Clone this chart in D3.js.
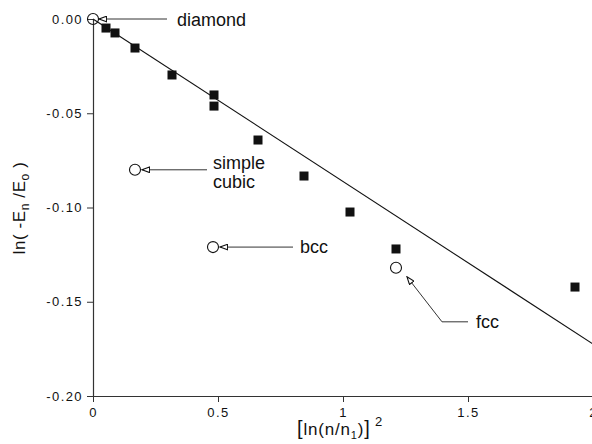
<!DOCTYPE html>
<html>
<head>
<meta charset="utf-8">
<script src="https://cdn.jsdelivr.net/npm/d3@7"></script>
<style>
  body { margin: 0; background: #fff; }
  svg { display: block; font-family: "Liberation Sans", Arial, sans-serif; }
</style>
</head>
<body>
<svg id="chart" width="592" height="444"></svg>
<script>
// measured points (filled squares)
const sqX = [0.052, 0.088, 0.168, 0.316, 0.484, 0.484, 0.66, 0.844, 1.028, 1.212, 1.928];
const sqY = [-0.0048, -0.0074, -0.0154, -0.0297, -0.0403, -0.0462, -0.0642, -0.0833, -0.1024, -0.122, -0.1422];

// lattice points (open circles)
const latName = ['diamond', 'simple cubic', 'bcc', 'fcc'];
const latX = [0, 0.168, 0.48, 1.212];
const latY = [0, -0.080, -0.121, -0.132];

// fitted straight line
const fitX = [0, 2];
const fitY = [0, -0.1724];

const xTicks = [0, 0.5, 1, 1.5, 2];
const xTickLabels = ['0', '0.5', '1', '1.5', '2'];
const yTicks = [0, -0.05, -0.1, -0.15, -0.2];
const yTickLabels = ['0.00', '-0.05', '-0.10', '-0.15', '-0.20'];

const svg = d3.select('#chart');
const x = d3.scaleLinear().domain([0, 2]).range([93, 593]);
const y = d3.scaleLinear().domain([-0.2, 0]).range([396, 19]);
const ink = '#111';

svg.append('defs').append('marker')
  .attr('id', 'head')
  .attr('viewBox', '0 0 9 7')
  .attr('refX', 8.3).attr('refY', 3.5)
  .attr('markerWidth', 9).attr('markerHeight', 7)
  .attr('markerUnits', 'userSpaceOnUse')
  .attr('orient', 'auto')
  .append('path')
  .attr('d', 'M8.3,3.5 L0.7,0.7 L0.7,6.3 Z')
  .attr('fill', '#fff')
  .attr('stroke', ink)
  .attr('stroke-width', 1.1);

// axes
const xAxis = d3.axisBottom(x).tickValues(xTicks)
  .tickFormat((d, i) => xTickLabels[i]).tickSize(6).tickSizeOuter(0);
const yAxis = d3.axisLeft(y).tickValues(yTicks)
  .tickFormat((d, i) => yTickLabels[i]).tickSize(6).tickSizeOuter(0);

const gx = svg.append('g').attr('transform', 'translate(0,396)').call(xAxis);
const gy = svg.append('g').attr('transform', 'translate(93,0)').call(yAxis);
[gx, gy].forEach((g) => {
  g.select('.domain').attr('stroke', '#333').attr('stroke-width', 1.2);
  g.selectAll('.tick line').attr('stroke', '#333');
  g.selectAll('.tick text').attr('fill', ink)
    .style('font-size', '13px')
    .style('letter-spacing', '1.4px')
    .style('font-family', '"Liberation Sans", Arial, sans-serif');
});
gx.selectAll('.tick text').attr('dy', '0.9em');
gy.selectAll('.tick text').attr('x', -10);

// fit line
svg.append('line')
  .attr('x1', x(fitX[0])).attr('y1', y(fitY[0]))
  .attr('x2', x(fitX[1])).attr('y2', y(fitY[1]))
  .attr('stroke', ink).attr('stroke-width', 1.1);

// squares
const s = 9;
svg.selectAll('rect.sq')
  .data(sqX.map((v, i) => [v, sqY[i]]))
  .enter()
  .append('rect')
  .attr('class', 'sq')
  .attr('x', (d) => x(d[0]) - s / 2)
  .attr('y', (d) => y(d[1]) - s / 2)
  .attr('width', s).attr('height', s)
  .attr('fill', ink);

// open circles
svg.selectAll('circle.lat')
  .data(latX.map((v, i) => [v, latY[i]]))
  .enter()
  .append('circle')
  .attr('class', 'lat')
  .attr('cx', (d) => x(d[0]))
  .attr('cy', (d) => y(d[1]))
  .attr('r', 5.5)
  .attr('fill', 'none')
  .attr('stroke', ink)
  .attr('stroke-width', 1.1);

// annotations: arrow paths given as offsets from each circle
const arrows = [
  { pts: [[74, 0], [6, 0]], tx: 84, ty: 7, lines: ['diamond'] },
  { pts: [[72, 0], [7, 0]], tx: 78, ty: -1, lines: ['simple', 'cubic'] },
  { pts: [[80, 0], [7, 0]], tx: 87, ty: 6, lines: ['bcc'] },
  { pts: [[72, 54], [46, 54], [11, 9]], tx: 80, ty: 60, lines: ['fcc'] },
];
arrows.forEach((a, i) => {
  const cx = x(latX[i]);
  const cy = y(latY[i]);
  svg.append('path')
    .attr('d', d3.line()(a.pts.map((p) => [cx + p[0], cy + p[1]])))
    .attr('fill', 'none')
    .attr('stroke', '#333')
    .attr('stroke-width', 1)
    .attr('marker-end', 'url(#head)');
  const t = svg.append('text')
    .attr('x', cx + a.tx).attr('y', cy + a.ty)
    .attr('fill', ink)
    .style('font-size', '18px');
  a.lines.forEach((ln, j) => {
    t.append('tspan').attr('x', cx + a.tx).attr('dy', j ? 19 : 0).text(ln);
  });
});

// axis titles
const yl = svg.append('text')
  .attr('transform', 'translate(25,208) rotate(-90)')
  .attr('text-anchor', 'middle')
  .attr('fill', ink)
  .style('font-size', '17px')
  .style('letter-spacing', '0.6px');
yl.append('tspan').text('ln( -E');
yl.append('tspan').attr('dy', 4).style('font-size', '12px').text('n');
yl.append('tspan').attr('dy', -4).text(' /E');
yl.append('tspan').attr('dy', 4).style('font-size', '12px').text('o');
yl.append('tspan').attr('dy', -4).text(' )');

const xl = svg.append('text')
  .attr('x', 340).attr('y', 435)
  .attr('text-anchor', 'middle')
  .attr('fill', ink)
  .style('font-size', '17px')
  .style('letter-spacing', '0.8px');
xl.append('tspan').style('font-size', '20px').text('[');
xl.append('tspan').text('ln(n/n');
xl.append('tspan').attr('dy', 4).style('font-size', '11px').text('1');
xl.append('tspan').attr('dy', -4).text(')');
xl.append('tspan').style('font-size', '20px').text(']');
xl.append('tspan').attr('dy', -9).style('font-size', '13px').text(' 2');
</script>
</body>
</html>
